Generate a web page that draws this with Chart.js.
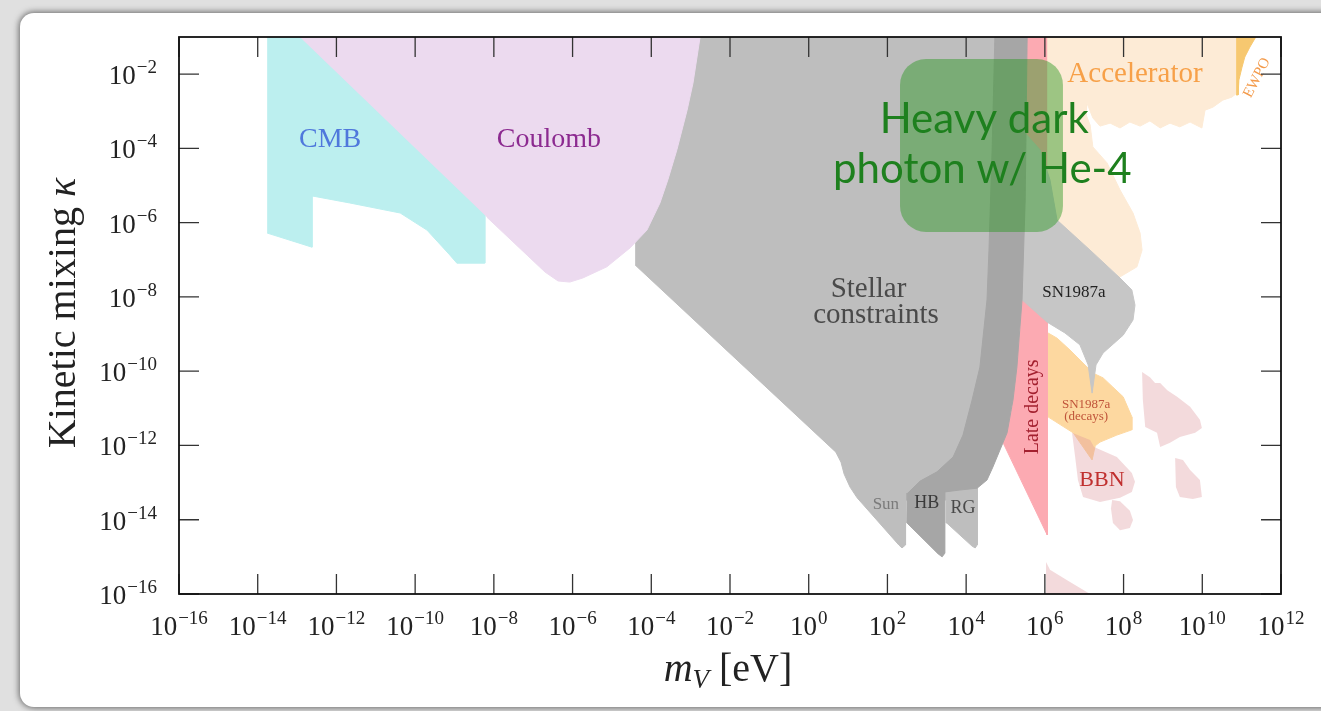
<!DOCTYPE html>
<html>
<head>
<meta charset="utf-8">
<script src="https://cdn.jsdelivr.net/npm/chart.js@4.4.0/dist/chart.umd.min.js"></script>
<style>
  html, body { margin: 0; padding: 0; }
  body { width: 1321px; height: 711px; overflow: hidden; background: #e0e0e0; position: relative; }
  #card { position: absolute; left: 20px; top: 13px; width: 1340px; height: 694px; background: #fff;
          border-radius: 14px 0 0 14px; box-shadow: 0 0 6px 1px rgba(0,0,0,0.55); }
  #wrap { position: absolute; left: 0; top: 0; width: 1321px; height: 711px; }
</style>
</head>
<body>
<div id="card"></div>
<div id="wrap"><canvas id="chart"></canvas></div>
<script>
// every region is an outline of [log10 m_V / eV, log10 kappa] points
const cmbEdge = [[-13.76,-1],[-12.0,-1],[-8.23,-5.0],[-8.23,-7.09],[-8.94,-7.09],[-9.12,-6.87],[-9.70,-6.20],
  [-10.38,-5.74],[-11.66,-5.47],[-12.62,-5.28],[-12.62,-6.66],[-13.76,-6.28]];
const coulombEdge = [[-12.93,-1],[-2.76,-1],[-2.94,-2.24],[-3.09,-2.97],[-3.35,-4.04],[-3.58,-4.85],[-3.78,-5.47],
  [-4.11,-6.20],[-4.54,-6.68],[-5.13,-7.19],[-5.74,-7.49],[-6.07,-7.60],[-6.37,-7.57],[-6.70,-7.33],[-7.08,-6.95],[-8.18,-5.85]];
const stellarEdge = [[-4.41,-1],[4.86,-1],[4.86,-8.08],[4.73,-10.78],[4.55,-12.12],[4.35,-12.93],[4.28,-13.15],
  [4.28,-14.68],[4.23,-14.76],[4.15,-14.71],[3.51,-14.09],[3.49,-13.47],[2.46,-13.47],[2.46,-14.68],[2.37,-14.76],
  [2.29,-14.68],[1.23,-13.41],[1.05,-13.12],[0.90,-12.77],[0.82,-12.45],[0.69,-12.18],[-4.41,-7.14]];
const hbEdge = [[4.73,-1],[4.66,-4.04],[4.58,-6.74],[4.53,-8.08],[4.35,-9.89],[4.15,-10.78],[3.92,-11.72],
  [3.67,-12.31],[3.26,-12.71],[2.83,-12.96],[2.52,-13.28],[2.50,-14.09],[3.29,-14.92],[3.39,-15.0],[3.46,-14.90],
  [3.46,-13.25],[3.84,-13.20],[4.28,-13.15],[4.53,-12.93],[4.68,-12.58],[4.86,-12.12],[5.04,-11.66],[5.19,-10.78],
  [5.29,-9.89],[5.42,-8.08],[5.50,-5.39],[5.55,-1]];
const lateDecaysEdge = [[5.37,-1],[6.06,-1],[6.06,-14.41],[4.94,-11.93],[5.16,-11.04],[5.37,-8.89],[5.42,-5.39]];
const acceleratorEdge = [[6.06,-1],[10.88,-1],[10.88,-2.51],[10.75,-2.62],[10.52,-2.70],[10.27,-2.89],[10.07,-2.97],
  [9.99,-3.45],[9.69,-3.29],[9.43,-3.42],[9.18,-3.32],[8.93,-3.45],[8.67,-3.26],[8.42,-3.40],[8.16,-3.29],[7.91,-3.45],
  [7.66,-3.32],[7.40,-3.40],[7.22,-3.18],[7.07,-2.78],[7.05,-3.10],[7.15,-3.37],[7.22,-3.96],[7.58,-4.39],[7.91,-5.12],
  [8.24,-5.74],[8.42,-6.28],[8.47,-6.74],[8.34,-7.19],[7.91,-7.46],[6.31,-5.98],[6.06,-5.71]];
const ewpoEdge = [[10.86,-1],[11.36,-1],[11.21,-1.27],[11.08,-1.54],[11.01,-1.81],[10.93,-2.16],[10.91,-2.56],[10.86,-2.56]];
const snCoolingEdge = [[5.32,-3.37],[5.88,-4.04],[6.13,-4.85],[6.31,-5.93],[7.15,-6.74],[7.91,-7.49],[8.21,-7.81],
  [8.29,-8.22],[8.24,-8.62],[7.99,-9.03],[7.48,-9.51],[7.30,-9.83],[7.20,-10.59],[7.10,-9.83],[6.89,-9.29],
  [6.51,-8.97],[6.06,-8.68],[5.37,-8.03]];
const snDecayEdge = [[6.08,-8.97],[6.31,-9.11],[6.64,-9.43],[6.97,-9.78],[7.22,-10.05],[7.48,-10.18],[7.73,-10.43],
  [7.99,-10.69],[8.21,-11.23],[8.21,-11.58],[7.83,-11.72],[7.40,-11.91],[7.28,-12.01],[7.20,-12.39],[6.72,-11.66],[6.08,-11.23]];
const bbnMain = [[6.69,-11.66],[7.15,-11.85],[7.25,-12.04],[7.83,-12.31],[8.21,-12.74],[8.29,-12.98],[8.21,-13.25],
  [7.91,-13.41],[7.40,-13.52],[6.97,-13.39],[6.84,-12.93],[6.77,-12.31]];
const bbnDrop = [[7.71,-13.47],[7.91,-13.50],[8.16,-13.76],[8.24,-14.01],[8.16,-14.22],[7.91,-14.28],[7.73,-14.09],[7.68,-13.70]];
const bbnUpper = [[8.47,-10.02],[8.67,-10.16],[8.80,-10.32],[8.93,-10.32],[9.11,-10.51],[9.36,-10.69],[9.69,-10.96],
  [9.94,-11.31],[9.99,-11.53],[9.82,-11.66],[9.43,-11.77],[9.18,-11.93],[8.93,-12.04],[8.85,-11.66],[8.55,-11.50],[8.49,-10.78]];
const bbnRight = [[9.31,-12.34],[9.51,-12.39],[9.69,-12.66],[9.94,-12.93],[9.99,-13.39],[9.76,-13.44],[9.43,-13.39],[9.33,-13.12]];
const bbnFloor = [[6.03,-15.14],[6.13,-15.35],[6.64,-15.68],[7.15,-16],[6.03,-16]];

// He-4 target window, log10 bounds
const heliumBox = { mLo: 2.32, mHi: 6.46, kLo: -6.25, kHi: -1.59 };

const xTickExps = [-16, -14, -12, -10, -8, -6, -4, -2, 0, 2, 4, 6, 8, 10, 12];
const yTickExps = [-16, -14, -12, -10, -8, -6, -4, -2];

const SERIF = '"Liberation Serif", "Times New Roman", serif';
const BBN_FILL = 'rgba(220,150,155,0.35)';

// bottom layer first
const layers = [
  { name: 'Stellar', edge: stellarEdge, color: '#bebebe' },
  { name: 'CMB', edge: cmbEdge, color: '#bcefef' },
  { name: 'Coulomb', edge: coulombEdge, color: '#ecdaef' },
  { name: 'Late decays', edge: lateDecaysEdge, color: '#fcaab2' },
  { name: 'Accelerator', edge: acceleratorEdge, color: '#fdebd6' },
  { name: 'EWPO', edge: ewpoEdge, color: '#f7c870' },
  { name: 'SN1987a (decays)', edge: snDecayEdge, color: '#fdd8a0' },
  { name: 'SN1987a', edge: snCoolingEdge, color: '#c6c6c6' },
  { name: 'HB', edge: hbEdge, color: '#a6a6a6' },
  { name: 'BBN', edge: bbnMain, color: BBN_FILL, clear: true },
  { name: 'BBN 2', edge: bbnDrop, color: BBN_FILL, clear: true },
  { name: 'BBN 3', edge: bbnUpper, color: BBN_FILL, clear: true },
  { name: 'BBN 4', edge: bbnRight, color: BBN_FILL, clear: true },
  { name: 'BBN 5', edge: bbnFloor, color: BBN_FILL, clear: true }
];

function toPoints(edge) {
  return edge.map(([m, k]) => ({ x: Math.pow(10, m), y: Math.pow(10, k) }));
}

const regionLabels = [
  { t: 'CMB', m: -12.16, k: -3.77, size: 28, color: '#4f78dc' },
  { t: 'Coulomb', m: -6.60, k: -3.77, size: 28, color: '#8c2a90' },
  { t: 'Stellar', m: 1.52, k: -7.79, size: 29, color: '#4a4a4a' },
  { t: 'constraints', m: 1.71, k: -8.49, size: 29, color: '#4a4a4a' },
  { t: 'SN1987a', m: 6.74, k: -7.89, size: 17, color: '#222' },
  { t: 'Sun', m: 1.96, k: -13.58, size: 17, color: '#7a7a7a' },
  { t: 'HB', m: 3.0, k: -13.55, size: 18, color: '#3a3a3a' },
  { t: 'RG', m: 3.92, k: -13.68, size: 18, color: '#4a4a4a' },
  { t: 'Late decays', m: 5.70, k: -10.96, size: 20, color: '#a3202f', rot: -Math.PI / 2 },
  { t: 'SN1987a', m: 7.05, k: -10.91, size: 13, color: '#c0543a' },
  { t: '(decays)', m: 7.05, k: -11.23, size: 13, color: '#c0543a' },
  { t: 'BBN', m: 7.45, k: -12.93, size: 22, color: '#c0302f' },
  { t: 'Accelerator', m: 8.29, k: -2.0, size: 29, color: '#f7a048' },
  { t: 'EWPO', m: 11.39, k: -2.10, size: 15, color: '#f39a4a', rot: -1.1 }
];

function px(chart, m) { return chart.scales.x.getPixelForValue(Math.pow(10, m)); }
function py(chart, k) { return chart.scales.y.getPixelForValue(Math.pow(10, k)); }

function roundRect(ctx, x, y, w, h, r) {
  ctx.beginPath();
  ctx.moveTo(x + r, y);
  ctx.arcTo(x + w, y, x + w, y + h, r);
  ctx.arcTo(x + w, y + h, x, y + h, r);
  ctx.arcTo(x, y + h, x, y, r);
  ctx.arcTo(x, y, x + w, y, r);
  ctx.closePath();
}

// "10" with a raised exponent
function powerLabel(ctx, x, y, exp, align) {
  const base = '10';
  const sup = exp < 0 ? '\u2212' + (-exp) : String(exp);
  ctx.font = '27px ' + SERIF;
  const wb = ctx.measureText(base).width;
  ctx.font = '19px ' + SERIF;
  const ws = ctx.measureText(sup).width;
  const total = wb + 1 + ws;
  const left = align === 'right' ? x - total : x - total / 2;
  ctx.textAlign = 'left';
  ctx.textBaseline = 'alphabetic';
  ctx.font = '27px ' + SERIF;
  ctx.fillText(base, left, y);
  ctx.font = '19px ' + SERIF;
  ctx.fillText(sup, left + wb + 1, y - 11);
}

const decorations = {
  id: 'decorations',
  afterDatasetsDraw(chart) {
    const ctx = chart.ctx;
    ctx.save();
    ctx.textAlign = 'center';
    ctx.textBaseline = 'middle';
    regionLabels.forEach(l => {
      ctx.save();
      ctx.translate(px(chart, l.m), py(chart, l.k));
      if (l.rot) ctx.rotate(l.rot);
      ctx.font = l.size + 'px ' + SERIF;
      ctx.fillStyle = l.color;
      ctx.fillText(l.t, 0, 0);
      ctx.restore();
    });

    // He-4 window
    const x0 = px(chart, heliumBox.mLo), x1 = px(chart, heliumBox.mHi);
    const y0 = py(chart, heliumBox.kHi), y1 = py(chart, heliumBox.kLo);
    roundRect(ctx, x0, y0, x1 - x0, y1 - y0, 26);
    ctx.fillStyle = 'rgba(40,150,30,0.45)';
    ctx.fill();
    ctx.font = '42px Lato, "Open Sans", sans-serif';
    ctx.fillStyle = '#1e801e';
    ctx.fillText('Heavy dark', px(chart, 4.46), py(chart, -3.21));
    ctx.fillText('photon w/ He-4', px(chart, 4.41), py(chart, -4.58));
    ctx.restore();
  },
  afterDraw(chart) {
    const ctx = chart.ctx;
    const a = chart.chartArea;
    ctx.save();

    // inward ticks on all four sides
    ctx.strokeStyle = '#333';
    ctx.lineWidth = 1.3;
    ctx.beginPath();
    xTickExps.forEach(e => {
      const x = px(chart, e);
      ctx.moveTo(x, a.bottom); ctx.lineTo(x, a.bottom - 20);
      ctx.moveTo(x, a.top); ctx.lineTo(x, a.top + 20);
    });
    yTickExps.forEach(e => {
      const y = py(chart, e);
      ctx.moveTo(a.left, y); ctx.lineTo(a.left + 20, y);
      ctx.moveTo(a.right, y); ctx.lineTo(a.right - 20, y);
    });
    ctx.stroke();

    ctx.strokeStyle = '#111';
    ctx.lineWidth = 1.8;
    ctx.strokeRect(a.left, a.top, a.right - a.left, a.bottom - a.top);

    ctx.fillStyle = '#222';
    xTickExps.forEach(e => powerLabel(ctx, px(chart, e), a.bottom + 41, e, 'center'));
    yTickExps.forEach(e => powerLabel(ctx, a.left - 22, py(chart, e) + 10, e, 'right'));

    // x title: m_V [eV]
    ctx.textAlign = 'left';
    ctx.textBaseline = 'alphabetic';
    ctx.font = 'italic 40px ' + SERIF;
    const wm = ctx.measureText('m').width;
    ctx.font = 'italic 27px ' + SERIF;
    const wv = ctx.measureText('V').width;
    ctx.font = '40px ' + SERIF;
    const we = ctx.measureText(' [eV]').width;
    const xs = 728 - (wm + wv + we) / 2;
    const yb = 681;
    ctx.font = 'italic 40px ' + SERIF;
    ctx.fillText('m', xs, yb);
    ctx.font = 'italic 27px ' + SERIF;
    ctx.fillText('V', xs + wm, yb + 7);
    ctx.font = '40px ' + SERIF;
    ctx.fillText(' [eV]', xs + wm + wv, yb);

    // y title: Kinetic mixing kappa
    ctx.save();
    ctx.translate(75, 313);
    ctx.rotate(-Math.PI / 2);
    ctx.font = '40px ' + SERIF;
    const wk = ctx.measureText('Kinetic mixing ').width;
    ctx.font = 'italic 40px ' + SERIF;
    const wkap = ctx.measureText('\u03ba').width;
    const ys = -(wk + wkap) / 2;
    ctx.font = '40px ' + SERIF;
    ctx.fillText('Kinetic mixing ', ys, 0);
    ctx.font = 'italic 40px ' + SERIF;
    ctx.fillText('\u03ba', ys + wk, 0);
    ctx.restore();

    ctx.restore();
  }
};

new Chart(document.getElementById('chart'), {
  type: 'line',
  data: {
    datasets: layers.map((l, i) => ({
      label: l.name,
      data: toPoints(l.edge),
      fill: 'shape',
      backgroundColor: l.color,
      borderColor: l.clear ? 'rgba(0,0,0,0)' : l.color,
      borderWidth: l.clear ? 0 : 1,
      pointRadius: 0,
      tension: 0,
      order: layers.length - i
    }))
  },
  options: {
    responsive: true,
    maintainAspectRatio: false,
    animation: false,
    events: [],
    layout: { padding: { left: 179, right: 40, top: 37, bottom: 117 } },
    scales: {
      x: { type: 'logarithmic', min: 1e-16, max: 1e12, display: false },
      y: { type: 'logarithmic', min: 1e-16, max: 1e-1, display: false }
    },
    plugins: {
      legend: { display: false },
      tooltip: { enabled: false }
    }
  },
  plugins: [decorations]
});
</script>
</body>
</html>
